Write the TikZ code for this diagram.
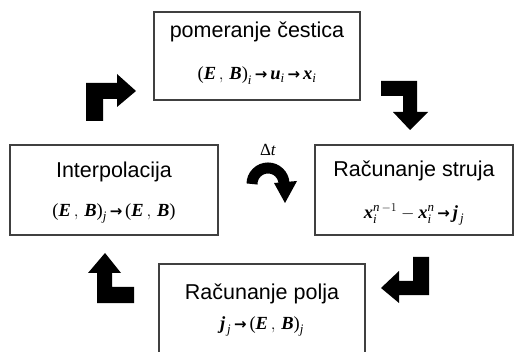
\documentclass[tikz,border=0pt]{standalone}
\usepackage{amsmath}
\usepackage{fontspec}
\setmainfont{Liberation Sans}
\newfontfamily\eqfont{Liberation Serif}
\newfontfamily\arrowfont{DejaVu Sans}
\newcommand{\vb}[1]{\text{\eqfont\bfseries\itshape #1}}
\newcommand{\ix}[1]{\text{\eqfont\itshape #1}}
\newcommand{\lp}{\text{\eqfont(}}
\newcommand{\rp}{\text{\eqfont)}}
\newcommand{\gives}{\,\text{\fontsize{15}{15}\selectfont\arrowfont\bfseries →}\,}
\usetikzlibrary{calc, positioning}

\begin{document}
\begin{tikzpicture}[x=1pt, y=-1pt,
        box/.style={draw=black!75, line width=1.2pt, minimum width=206pt,
          minimum height=88pt, inner sep=0pt},
        boxtitle/.style={font=\fontsize{21.5}{24}\selectfont, anchor=base, inner sep=0pt},
        formula/.style={font=\fontsize{18.5}{21}\selectfont, inner sep=0pt},
        blockarrow/.style={fill=black, draw=none}]
      \useasboundingbox (0,0) rectangle (516,352);
      \clip (0,0) rectangle (516,352);
      % the four steps
      \node[box] (pomeranje) at (257,56) {};
      \node[box, minimum width=208pt, minimum height=90pt] (interp) at (114,190) {};
      \node[box, minimum width=198pt, minimum height=90pt] (struja) at (414,190) {};
      \node[box, minimum height=90pt] (polja) at (262,309) {};
      \node[boxtitle] (pomeranjeT) at ($(pomeranje.north)+(0,26)$) {pomeranje čestica};
      \node[boxtitle] (interpT) at ($(interp.north)+(0,33)$) {Interpolacija};
      \node[boxtitle] (strujaT) at ($(struja.north)+(0,32)$) {Računanje struja};
      \node[boxtitle] (poljaT) at ($(polja.north)+(0,36)$) {Računanje polja};
      \node[formula] (pomeranjeF) at ($(pomeranje.north)+(0,64)$)
        {$\lp\vb{E}\,,\,\vb{B}\rp_{\ix{i}}\gives\vb{u}_{\ix{i}}\gives\vb{x}_{\ix{i}}$};
      \node[formula] (interpF) at ($(interp.north)+(0,69)$)
        {$\lp\vb{E}\,,\,\vb{B}\rp_{\ix{j}}\gives\lp\vb{E}\,,\,\vb{B}\rp$};
      \node[formula] (strujaF) at ($(struja.north)+(0,70)$)
        {$\vb{x}_{\ix{i}}^{\ix{n}\,-1}-\vb{x}_{\ix{i}}^{\ix{n}}\gives\vb{j}_{\,\ix{j}}$};
      \node[formula] (poljaF) at ($(polja.north)+(0,63)$)
        {$\vb{j}_{\,\ix{j}}\gives\lp\vb{E}\,,\,\vb{B}\rp_{\ix{j}}$};
      % time step
      \node[font=\fontsize{17}{20}\selectfont\eqfont, inner sep=0pt] (dt) at (268,150) {Δ\textit{t}};
      \draw[line width=11pt] (252,184) arc[start angle=180, end angle=358, radius=16];
      \fill (274,183) -- (297,181) -- (285,203) -- cycle;
      % block arrows between the steps
      \fill[blockarrow] (86,121) -- (86,83) -- (117,83) -- (117,74) -- (136,91)
        -- (117,107) -- (117,99) -- (103,99) -- (103,121) -- cycle;
      \fill[blockarrow] (381,81) -- (417,81) -- (417,112) -- (428,112) -- (410,130)
        -- (393,112) -- (403,112) -- (403,96) -- (381,96) -- cycle;
      \fill[blockarrow] (413,257) -- (429,257) -- (429,295) -- (399,295) -- (399,303)
        -- (381,288) -- (399,271) -- (399,281) -- (413,281) -- cycle;
      \fill[blockarrow] (97,303) -- (134,303) -- (134,287) -- (112,287) -- (112,273)
        -- (121,273) -- (105,253) -- (88,273) -- (97,273) -- cycle;
    \end{tikzpicture}
\end{document}
